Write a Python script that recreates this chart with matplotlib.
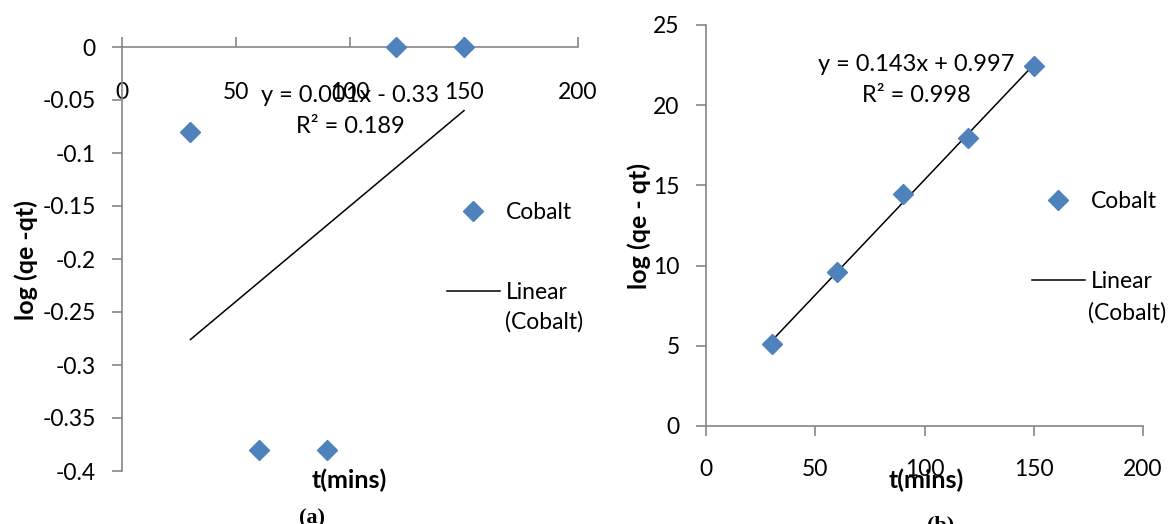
import numpy as np
import matplotlib.pyplot as plt

plt.rcParams['font.family'] = ['Lato', 'DejaVu Sans']
plt.rcParams['axes.unicode_minus'] = False

# data
t_mins = [30, 60, 90, 120, 150]
log_a = [-0.08, -0.38, -0.38, 0.0, 0.0]
log_b = [5.1, 9.6, 14.45, 17.97, 22.45]
eq_a = "y = 0.001x - 0.33\nR² = 0.189"
eq_b = "y = 0.143x + 0.997\nR² = 0.998"
x_ticks = [0, 50, 100, 150, 200]
y_ticks_a = [0, -0.05, -0.1, -0.15, -0.2, -0.25, -0.3, -0.35, -0.4]
y_ticks_a_lbl = ["0", "-0.05", "-0.1", "-0.15", "-0.2", "-0.25", "-0.3", "-0.35", "-0.4"]
y_ticks_b = [0, 5, 10, 15, 20, 25]

W, H = 1174, 524
blue = '#4F81BD'
grey = '#868686'
fs = 16.5

fig = plt.figure(figsize=(W / 100, H / 100), dpi=100)

def px(x, y):
    # pixel position -> figure fraction
    return x / W, 1 - y / H

def panel(rect, y, yticks, ylbls, ylim, eq, eq_xy, leg_xy, cob2_xy, ylabel, ylab_xy, xlab_xy, tag, tag_xy, top_axis):
    ax = fig.add_axes(rect)
    ax.plot(t_mins, y, 'D', color=blue, ms=9.8, mec=blue, label='Cobalt', clip_on=False, zorder=3)
    k, b = np.polyfit(t_mins, y, 1)
    xx = np.array([min(t_mins), max(t_mins)])
    ax.plot(xx, k * xx + b, color='black', lw=1.1, label='Linear')
    ax.set_xlim(0, 200)
    ax.set_ylim(*ylim)
    ax.set_xticks(x_ticks)
    ax.set_yticks(yticks)
    ax.set_yticklabels(ylbls)
    for s in ['top', 'right']:
        ax.spines[s].set_visible(False)
    for s in ['left', 'bottom']:
        ax.spines[s].set_color(grey)
        ax.spines[s].set_linewidth(1.2)
    if top_axis:
        ax.spines['bottom'].set_position(('data', 0))
        ax.tick_params(axis='x', direction='in', length=7, pad=25)
    else:
        ax.tick_params(axis='x', direction='out', length=7, pad=17)
    ax.tick_params(axis='y', direction='out', length=7, pad=12)
    ax.tick_params(colors=grey, width=1.2, labelsize=fs, labelcolor='black')
    ax.text(*eq_xy, eq, transform=fig.transFigure, ha='center', va='center', fontsize=17, linespacing=1.6)
    leg = ax.legend(loc='upper left', bbox_to_anchor=leg_xy, bbox_transform=fig.transFigure,
                    frameon=False, fontsize=fs, handlelength=2.3, handletextpad=0.25,
                    borderpad=0, borderaxespad=0, labelspacing=2.56)
    # second line of the trendline entry
    fig.text(*cob2_xy, '(Cobalt)', ha='left', va='center', fontsize=fs)
    fig.text(*ylab_xy, ylabel, rotation=90, ha='center', va='center', fontsize=18, fontweight='bold')
    fig.text(*xlab_xy, 't(mins)', ha='center', va='center', fontsize=18, fontweight='bold')
    fig.text(*tag_xy, tag, ha='center', va='center', fontsize=16, fontweight='bold', family='Liberation Serif')
    return ax

panel([122 / W, 1 - 471 / H, 456 / W, 424 / H], log_a, y_ticks_a, y_ticks_a_lbl, (-0.4, 0),
      eq_a, px(350, 111), px(447, 202), px(505, 322), 'log (qe -qt)', px(26, 260), px(349, 480),
      '(a)', px(312, 518), True)
panel([706 / W, 1 - 426 / H, 437 / W, 401 / H], log_b, y_ticks_b, [str(v) for v in y_ticks_b], (0, 25),
      eq_b, px(916, 80), px(1032, 191), px(1088, 313), 'log (qe - qt)', px(639, 226), px(926, 480),
      '(b)', px(941, 525), False)

fig.savefig('out.png', dpi=100)
